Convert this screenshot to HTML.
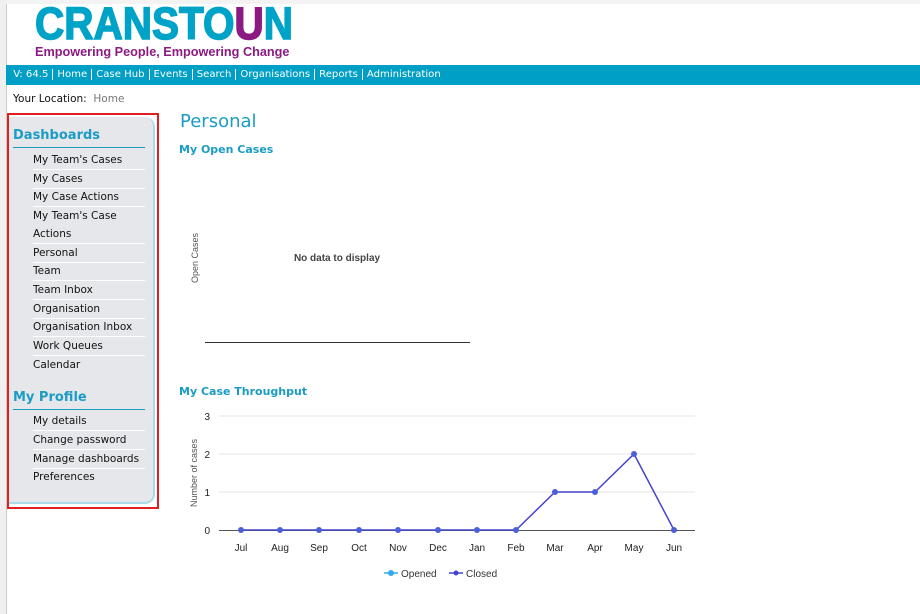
<!DOCTYPE html>
<html><head><style>
body{margin:0;width:920px;height:614px;overflow:hidden;background:#fff;font-family:"DejaVu Sans","Liberation Sans",sans-serif;position:relative}
.a{position:absolute;white-space:nowrap}
.nav{position:absolute;left:6px;top:65px;width:914px;height:20px;background:#009fc5;color:#fff;font-size:10.1px;line-height:20px}
.nav span{padding:0 4px;border-right:1px solid #fff}
.side{position:absolute;left:9px;top:117px;width:144px;height:385px;background:#e6e7eb;border:2px solid #a9dbe9;border-left:none;border-top:none;border-radius:0 10px 10px 0}
.it{position:absolute;left:33px;font-size:10.5px;color:#111;width:112px;border-bottom:1px solid #fff;height:18px;line-height:18px}
.h{position:absolute;left:13px;color:#1a9cc4;font-weight:bold;font-size:13px;width:132px;border-bottom:1px solid #1a9cc4;padding-bottom:4px}
</style></head><body>
<div class="a" style="left:0;top:0;width:6px;height:614px;background:#f0f0f0;border-right:1px solid #ccc"></div>
<div class="a" style="left:6px;top:0;width:914px;height:4px;background:#f3f3f3"></div>
<div class="a" style="left:35px;top:0px;font-family:'Liberation Sans',sans-serif;font-weight:bold;font-size:45px;color:#00a3c8;line-height:48px;-webkit-text-stroke:1.5px currentColor;transform:scaleX(0.9);transform-origin:0 0">CRANSTO<span style="color:#8c1a83">U</span>N</div>
<div class="a" style="left:35px;top:45px;font-family:'Liberation Sans',sans-serif;font-weight:bold;font-size:12.7px;color:#8c1a83">Empowering People, Empowering Change</div>
<div class="nav">&nbsp;<span>V: 64.5</span><span>Home</span><span>Case Hub</span><span>Events</span><span>Search</span><span>Organisations</span><span>Reports</span><span style="border:none">Administration</span></div>
<div class="a" style="left:13px;top:93px;font-size:10.5px;color:#111">Your Location:&nbsp; <span style="color:#777">Home</span></div>
<div class="a" style="left:7px;top:113px;width:148px;height:392px;border:2px solid #e02020"></div>
<div class="side"></div>
<div class="h" style="top:128px">Dashboards</div>
<div class="it" style="top:151px">My Team's Cases</div>
<div class="it" style="top:170px">My Cases</div>
<div class="it" style="top:188px">My Case Actions</div>
<div class="it" style="top:207px;border:none">My Team's Case</div>
<div class="it" style="top:225px">Actions</div>
<div class="it" style="top:244px">Personal</div>
<div class="it" style="top:262px">Team</div>
<div class="it" style="top:281px">Team Inbox</div>
<div class="it" style="top:300px">Organisation</div>
<div class="it" style="top:318px">Organisation Inbox</div>
<div class="it" style="top:337px">Work Queues</div>
<div class="it" style="top:356px;border:none">Calendar</div>
<div class="h" style="top:390px">My Profile</div>
<div class="it" style="top:412px">My details</div>
<div class="it" style="top:431px">Change password</div>
<div class="it" style="top:450px">Manage dashboards</div>
<div class="it" style="top:468px;border:none">Preferences</div>
<div class="a" style="left:180px;top:111px;font-size:18px;color:#1a9cc4">Personal</div>
<div class="a" style="left:179px;top:143px;font-size:11px;font-weight:bold;color:#1a9cc4">My Open Cases</div>
<div class="a" style="left:179px;top:385px;font-size:11px;font-weight:bold;color:#1a9cc4">My Case Throughput</div>
<svg class="a" style="left:0;top:0" width="920" height="614" font-family="Liberation Sans,sans-serif">
<text x="198" y="258" transform="rotate(-90 198 258)" font-size="9" fill="#555" text-anchor="middle">Open Cases</text>
<text x="337" y="261" font-size="10" font-weight="bold" fill="#444" text-anchor="middle">No data to display</text>
<line x1="205" y1="342.5" x2="470" y2="342.5" stroke="#333"/>
<g stroke="#e6e6e6"><line x1="219" y1="416" x2="695" y2="416"/><line x1="219" y1="454" x2="695" y2="454"/><line x1="219" y1="492" x2="695" y2="492"/></g>
<line x1="219" y1="530.5" x2="695" y2="530.5" stroke="#555"/>
<g font-size="10" fill="#222" text-anchor="end"><text x="210" y="420">3</text><text x="210" y="458">2</text><text x="210" y="496">1</text><text x="210" y="534">0</text></g>
<text x="197" y="473" transform="rotate(-90 197 473)" font-size="9" fill="#555" text-anchor="middle">Number of cases</text>
<g font-size="10" fill="#222" text-anchor="middle"><text x="241" y="551">Jul</text><text x="280" y="551">Aug</text><text x="319" y="551">Sep</text><text x="359" y="551">Oct</text><text x="398" y="551">Nov</text><text x="438" y="551">Dec</text><text x="477" y="551">Jan</text><text x="516" y="551">Feb</text><text x="555" y="551">Mar</text><text x="595" y="551">Apr</text><text x="634" y="551">May</text><text x="674" y="551">Jun</text></g>
<polyline fill="none" stroke="#4444cc" stroke-width="1.5" points="241,530 280,530 319,530 359,530 398,530 438,530 477,530 516,530 555,492 595,492 634,454 674,530"/>
<g fill="#4a5fd8"><circle cx="241" cy="530" r="3"/><circle cx="280" cy="530" r="3"/><circle cx="319" cy="530" r="3"/><circle cx="359" cy="530" r="3"/><circle cx="398" cy="530" r="3"/><circle cx="438" cy="530" r="3"/><circle cx="477" cy="530" r="3"/><circle cx="516" cy="530" r="3"/><circle cx="555" cy="492" r="3"/><circle cx="595" cy="492" r="3"/><circle cx="634" cy="454" r="3"/><circle cx="674" cy="530" r="3"/></g>
<line x1="384" y1="573" x2="398" y2="573" stroke="#33aaee" stroke-width="1.5"/><circle cx="391" cy="573" r="3" fill="#33aaee"/>
<text x="401" y="577" font-size="10" fill="#333">Opened</text>
<line x1="449" y1="573" x2="463" y2="573" stroke="#4444cc" stroke-width="1.5"/><circle cx="456" cy="573" r="2.5" fill="#4444cc"/>
<text x="466" y="577" font-size="10" fill="#333">Closed</text>
</svg>
</body></html>
